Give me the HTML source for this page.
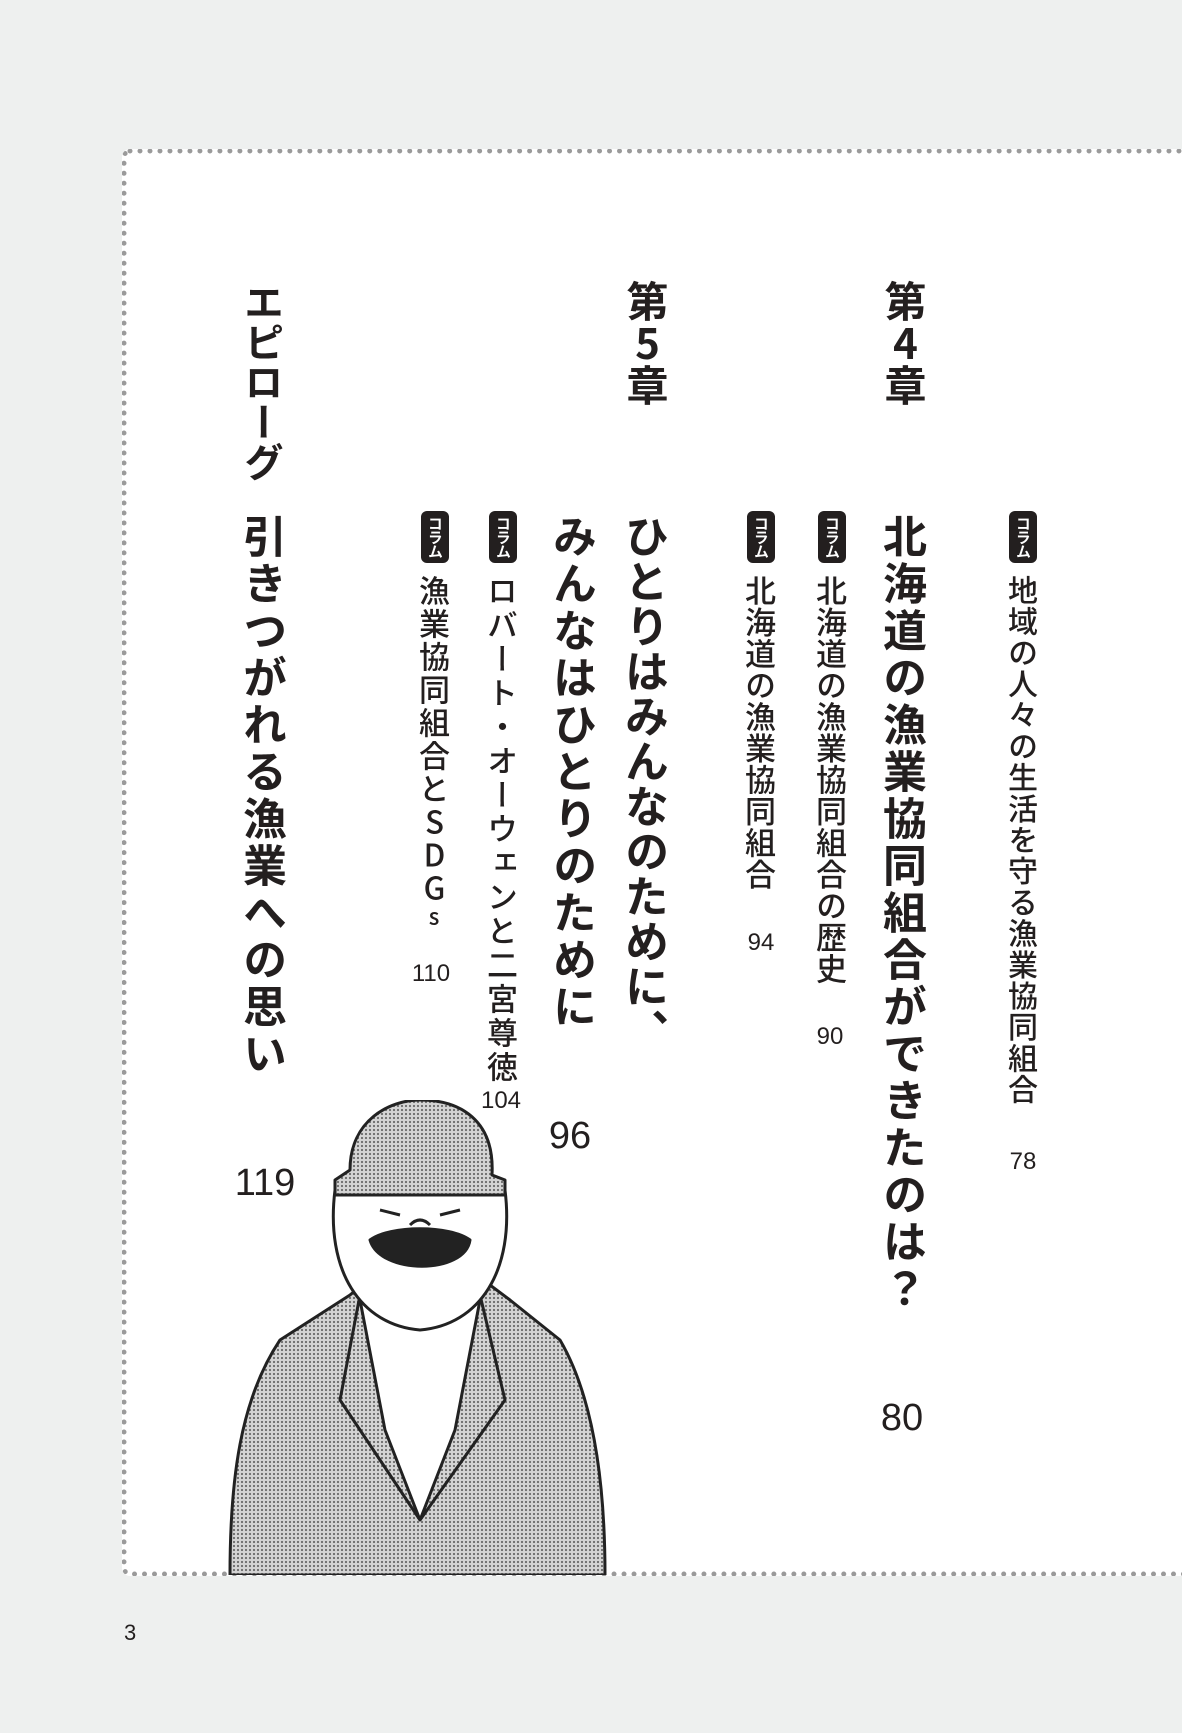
<!DOCTYPE html>
<html><head><meta charset="utf-8"><style>
html,body{margin:0;padding:0}
body{width:1182px;height:1733px;background:#eef0ef;position:relative;overflow:hidden;font-family:"Liberation Sans","Noto Sans CJK JP",sans-serif;color:#231f1f}
.panel{position:absolute;left:122px;top:149px;width:1080px;height:1427px;background:#fff;border-top:5px dotted #9a9a9a;border-left:5px dotted #9a9a9a;border-bottom:5px dotted #9a9a9a;border-radius:8px;box-sizing:border-box}
.v{position:absolute;writing-mode:vertical-rl;font-family:"Noto Sans CJK JP",sans-serif;font-weight:700;white-space:nowrap;line-height:1}
.badge{position:absolute;width:28px;height:52px;background:#231f1f;border-radius:6px;color:#fff;writing-mode:vertical-rl;font-family:"Noto Sans CJK JP",sans-serif;font-weight:700;font-size:15px;line-height:28px;text-align:center;letter-spacing:-1px}
.n{position:absolute;font-family:"Liberation Sans",sans-serif;transform:translateX(-50%)}
</style></head><body>
<div class="panel"></div>

<!-- Chapter 4 -->
<div class="v" style="left:884px;top:280px;font-size:42px">第<span style="text-orientation:upright">4</span>章</div>
<div class="badge" style="left:1009px;top:511px">コラム</div>
<div class="v" style="left:1008px;top:575px;font-size:30px;font-weight:500;letter-spacing:1.2px">地域の人々の生活を守る漁業協同組合</div>
<div class="n" style="left:1023px;top:1148px;font-size:24px">78</div>

<div class="v" style="left:883px;top:514px;font-size:44px;letter-spacing:3px">北海道の漁業協同組合ができたのは？</div>
<div class="n" style="left:902px;top:1397px;font-size:38px">80</div>

<div class="badge" style="left:818px;top:511px">コラム</div>
<div class="v" style="left:816px;top:575px;font-size:31px;font-weight:500;letter-spacing:0.5px">北海道の漁業協同組合の歴史</div>
<div class="n" style="left:830px;top:1023px;font-size:24px">90</div>

<div class="badge" style="left:747px;top:511px">コラム</div>
<div class="v" style="left:745px;top:575px;font-size:31px;font-weight:500;letter-spacing:0.5px">北海道の漁業協同組合</div>
<div class="n" style="left:761px;top:929px;font-size:24px">94</div>

<!-- Chapter 5 -->
<div class="v" style="left:626px;top:280px;font-size:42px">第<span style="text-orientation:upright">5</span>章</div>
<div class="v" style="left:625px;top:514px;font-size:44px;letter-spacing:1px">ひとりはみんなのために、</div>
<div class="v" style="left:553px;top:514px;font-size:44px;letter-spacing:3px">みんなはひとりのために</div>
<div class="n" style="left:570px;top:1115px;font-size:38px">96</div>

<div class="badge" style="left:489px;top:511px">コラム</div>
<div class="v" style="left:487px;top:575px;font-size:31px;font-weight:500;letter-spacing:3px">ロバート・オーウェンと二宮尊徳</div>
<div class="n" style="left:501px;top:1087px;font-size:24px">104</div>

<div class="badge" style="left:421px;top:511px">コラム</div>
<div class="v" style="left:419px;top:575px;font-size:31px;font-weight:500;letter-spacing:2px;text-orientation:upright">漁業協同組合とSDG<span style="font-size:22px">s</span></div>
<div class="n" style="left:431px;top:960px;font-size:24px">110</div>

<!-- Epilogue -->
<div class="v" style="left:244px;top:282px;font-size:40px">エピローグ</div>
<div class="v" style="left:243px;top:514px;font-size:44px;letter-spacing:3px">引きつがれる漁業への思い</div>
<div class="n" style="left:265px;top:1162px;font-size:38px">119</div>

<div style="position:absolute;left:124px;top:1620px;font-size:22px">3</div>

<!-- Illustration -->
<svg style="position:absolute;left:220px;top:1100px" width="400" height="475" viewBox="0 0 400 475">
<defs><pattern id="d" width="4" height="4" patternUnits="userSpaceOnUse"><rect width="4" height="4" fill="#d4d4d4"/><circle cx="2" cy="2" r="1.1" fill="#6a6a6a"/></pattern></defs>
<g stroke="#222" stroke-width="3" stroke-linejoin="round">
<path d="M10 475 C10 380 20 300 60 240 L130 195 L160 170 L250 170 L290 200 L340 240 C375 300 385 390 385 475 Z" fill="url(#d)"/>
<path d="M140 200 L165 330 L200 420 L235 330 L260 200 Z" fill="#fff"/>
<path d="M140 195 L120 300 L200 420 M260 195 L285 300 L200 420" fill="none"/>
<path d="M115 90 C105 170 140 225 200 230 C260 225 295 170 285 90 Z" fill="#fff"/>
<path d="M130 70 C130 20 170 0 200 0 C240 0 275 20 272 75 L285 80 L285 95 L115 95 L115 80 Z" fill="url(#d)"/>
<path d="M150 140 C170 125 230 125 250 140 C245 175 160 175 150 140 Z" fill="#222"/>
<path d="M160 110 L180 115 M220 115 L240 110 M190 125 Q200 115 210 125" fill="none"/>
</g>
</svg>
</body></html>
